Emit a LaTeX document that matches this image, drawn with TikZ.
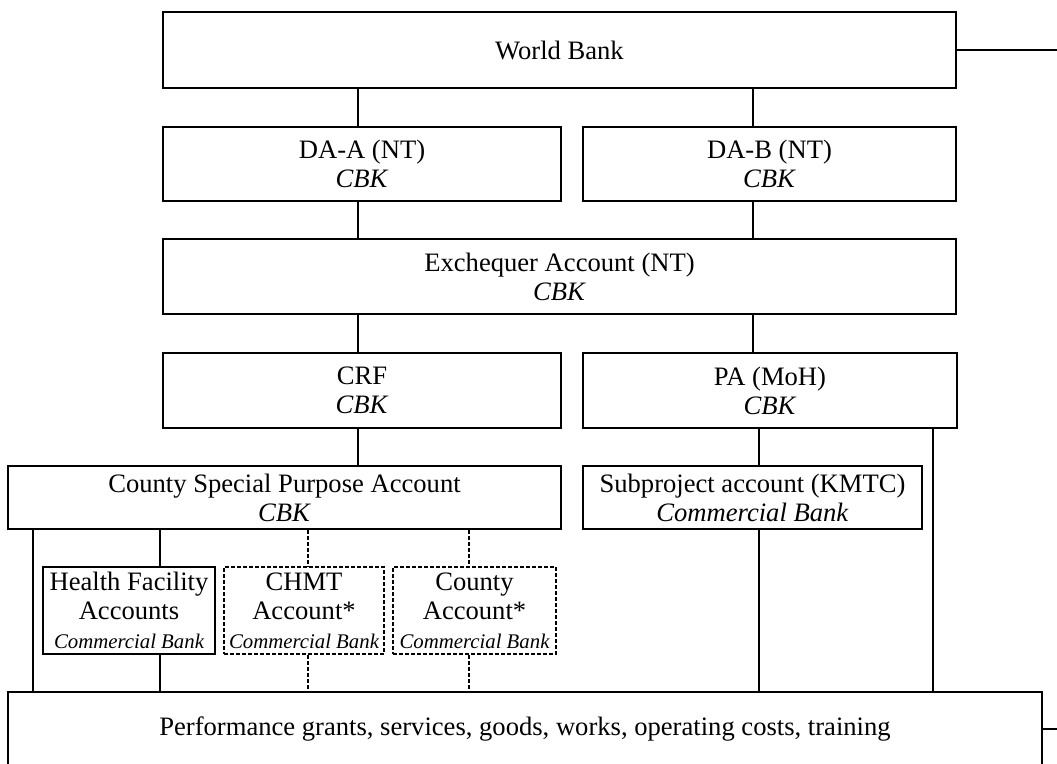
\documentclass[tikz,border=0pt]{standalone}
\usepackage{fontspec}
\setmainfont{Liberation Serif}
\usetikzlibrary{positioning,calc}
\newcommand{\cbank}{{\fontsize{10.4}{12}\selectfont\itshape Commercial Bank}}

\begin{document}
\begin{tikzpicture}[
    x=0.5pt, y=-0.5pt,
    acct/.style={draw, line width=0.7pt, align=center, inner sep=0pt, font=\fontsize{13.3}{14.5}\selectfont, minimum height=37pt},
    acct_dashed/.style={acct, dash pattern=on 2pt off 1pt},
    flow_edge/.style={line width=0.7pt},
    dashed_edge/.style={line width=0.7pt, dash pattern=on 2pt off 1pt}
]
\useasboundingbox (0,0) rectangle (1057,764);
\clip (0,0) rectangle (1057,764);

% Donor and designated accounts
\node[acct, minimum width=396.5pt, minimum height=38pt] (wb) at (559.5, 50) {World Bank};
\node[acct, minimum width=199pt] (daa) at (362, 164) {DA-A (NT)\\\textit{CBK}};
\node[acct, minimum width=186.5pt] (dab) at (769.5, 164) {DA-B (NT)\\\textit{CBK}};

% Treasury level
\node[acct, minimum width=396.5pt, minimum height=37.5pt] (exch) at (559.5, 276.5) {Exchequer Account (NT)\\\textit{CBK}};
\node[acct, minimum width=199pt, minimum height=37.5pt] (crf) at (362, 390.5) {CRF\\\textit{CBK}};
\node[acct, minimum width=187pt, minimum height=37.5pt] (pa) at (770, 390.5) {PA (MoH)\\\textit{CBK}};

% County and KMTC accounts
\node[acct, minimum width=276.5pt, minimum height=31.5pt] (cspa) at (284.5, 497.5) {County Special Purpose Account\\\textit{CBK}};
\node[acct, minimum width=169.5pt, minimum height=31.5pt] (sub) at (752.5, 497.5) {Subproject account (KMTC)\\\textit{Commercial Bank}};

% Commercial bank accounts below the county
\node[acct, minimum width=86pt, minimum height=43.5pt] (hfa) at (129, 610.5) {Health Facility\\Accounts\\\cbank};
\node[acct_dashed, minimum width=80pt, minimum height=43.5pt] (chmt) at (304, 610.5) {CHMT\\Account*\\\cbank};
\node[acct_dashed, minimum width=81.5pt, minimum height=43.5pt] (cty) at (474.5, 610.5) {County\\Account*\\\cbank};

% Spending
\node[acct, minimum width=517pt, minimum height=37pt] (bot) at (525, 729) {Performance grants, services, goods, works, operating costs, training};

% Connector columns
\coordinate (c1) at (33, 0);
\coordinate (c2) at (160, 0);
\coordinate (c3) at (308, 0);
\coordinate (c4) at (469, 0);
\coordinate (c5) at (358, 0);
\coordinate (c6) at (753, 0);
\coordinate (c7) at (759, 0);
\coordinate (c8) at (933, 0);
\coordinate (rim_top) at (1057, 50);
\coordinate (rim_bot) at (1057, 729);

\draw[flow_edge] (wb.south -| c5) -- (daa.north -| c5);
\draw[flow_edge] (wb.south -| c6) -- (dab.north -| c6);
\draw[flow_edge] (daa.south -| c5) -- (exch.north -| c5);
\draw[flow_edge] (dab.south -| c6) -- (exch.north -| c6);
\draw[flow_edge] (exch.south -| c5) -- (crf.north -| c5);
\draw[flow_edge] (exch.south -| c6) -- (pa.north -| c6);
\draw[flow_edge] (crf.south -| c5) -- (cspa.north -| c5);
\draw[flow_edge] (pa.south -| c7) -- (sub.north -| c7);
\draw[flow_edge] (pa.south -| c8) -- (bot.north -| c8);
\draw[flow_edge] (sub.south -| c7) -- (bot.north -| c7);

\draw[flow_edge] (cspa.south -| c1) -- (bot.north -| c1);
\draw[flow_edge] (cspa.south -| c2) -- (hfa.north -| c2);
\draw[flow_edge] (hfa.south -| c2) -- (bot.north -| c2);
\draw[dashed_edge] (cspa.south -| c3) -- (chmt.north -| c3);
\draw[dashed_edge] (chmt.south -| c3) -- (bot.north -| c3);
\draw[dashed_edge] (cspa.south -| c4) -- (cty.north -| c4);
\draw[dashed_edge] (cty.south -| c4) -- (bot.north -| c4);

\draw[flow_edge] (wb.east) -- (rim_top);
\draw[flow_edge] (bot.east) -- (rim_bot);

\end{tikzpicture}
\end{document}
